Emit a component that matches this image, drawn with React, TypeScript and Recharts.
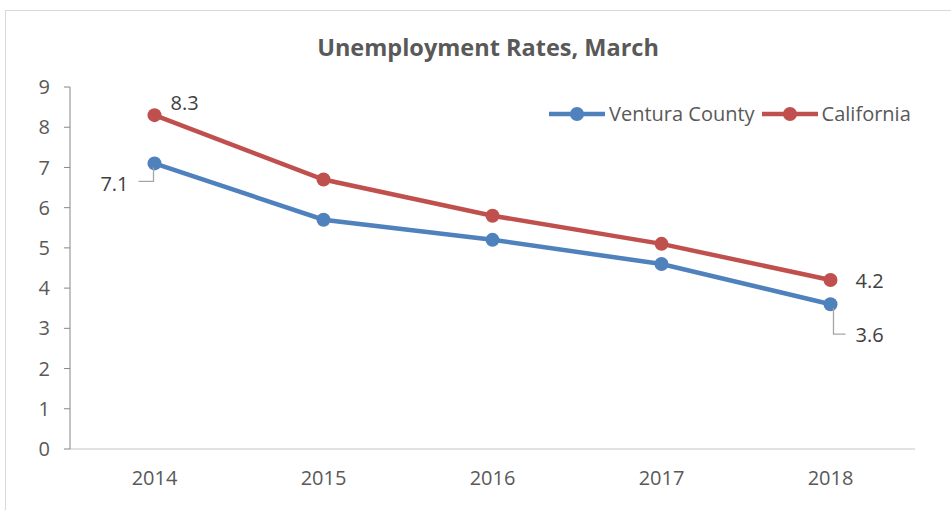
import { LineChart, Line, XAxis, YAxis, Legend, LabelList } from "recharts"

const years = ["2014", "2015", "2016", "2017", "2018"]
const ventura = [7.1, 5.7, 5.2, 4.6, 3.6]
const california = [8.3, 6.7, 5.8, 5.1, 4.2]
const seriesNames = ["Ventura County", "California"]
const yTicks = [0, 1, 2, 3, 4, 5, 6, 7, 8, 9]

const data = years.map((year, i) => ({ year, ventura: ventura[i], california: california[i] }))

const FONT = "'Open Sans', 'Liberation Sans', sans-serif"
const BLUE = "#4f81bd"
const RED = "#c0504d"

// where each visible data label goes, relative to its point
const labelSpots: Record<string, Record<number, { dx: number; dy: number; anchor: string; leader?: boolean }>> = {
  ventura: {
    0: { dx: -26, dy: 20, anchor: "end", leader: true },
    4: { dx: 25, dy: 30, anchor: "start", leader: true },
  },
  california: {
    0: { dx: 16, dy: -13, anchor: "start" },
    4: { dx: 25, dy: 0, anchor: "start" },
  },
}

function pointLabel(series: string) {
  return (props: any) => {
    const { x, y, value, index } = props
    const spot = labelSpots[series][index]
    if (!spot) return null
    const tx = x + spot.dx
    const ty = y + spot.dy
    return (
      <g>
        {spot.leader && (
          <polyline
            points={
              spot.anchor === "end"
                ? `${x - 1},${y + 4} ${x - 1},${ty - 2} ${tx + 10},${ty - 2}`
                : `${x + 3},${y + 4} ${x + 3},${ty} ${tx - 10},${ty}`
            }
            fill="none"
            stroke="#a6a6a6"
            strokeWidth={1.3}
          />
        )}
        <text x={tx} y={ty} textAnchor={spot.anchor as any} dominantBaseline="central"
          fontFamily={FONT} fontSize={20} fill="#404040">
          {value}
        </text>
      </g>
    )
  }
}

function LegendRow({ payload }: any) {
  const items = [...(payload || [])].sort(
    (a: any, b: any) => seriesNames.indexOf(a.value) - seriesNames.indexOf(b.value)
  )
  return (
    <div style={{ display: "flex", alignItems: "center", fontFamily: FONT, fontSize: 20, color: "#595959" }}>
      {items.map((p: any) => (
        <div key={p.value} style={{ display: "flex", alignItems: "center", marginRight: 6 }}>
          <svg width={58} height={20} style={{ marginRight: 3 }}>
            <line x1={1} y1={10} x2={57} y2={10} stroke={p.color} strokeWidth={4.5} />
            <circle cx={29} cy={10} r={7} fill={p.color} />
          </svg>
          <span>{p.value}</span>
        </div>
      ))}
    </div>
  )
}

export default function App() {
  return (
    <div style={{ position: "absolute", left: 0, top: 0, width: 951, height: 510, background: "#fff", overflow: "hidden" }}>
      <div style={{ position: "absolute", left: 5, top: 10, width: 980, height: 540, border: "1px solid #d9d9d9" }} />
      <div style={{
        position: "absolute", left: 0, top: 31, width: 976, textAlign: "center",
        fontFamily: FONT, fontWeight: 700, fontSize: 23.5, color: "#595959",
      }}>
        Unemployment Rates, March
      </div>
      <div style={{ position: "absolute", left: 0, top: 0 }}>
        <LineChart width={951} height={510} data={data} margin={{ top: 87, right: 36, bottom: 21, left: 0 }}>
          <XAxis
            dataKey="year"
            padding={{ left: 84.5, right: 84.5 }}
            axisLine={{ stroke: "#d9d9d9", strokeWidth: 1.5 }}
            tickLine={false}
            tickSize={0}
            tickMargin={22}
            height={40}
            tick={{ fontFamily: FONT, fontSize: 20, fill: "#595959" }}
          />
          <YAxis
            width={70}
            domain={[0, 9]}
            ticks={yTicks}
            interval={0}
            axisLine={{ stroke: "#868686" }}
            tickLine={{ stroke: "#868686" }}
            tickSize={6}
            tickMargin={14}
            tick={{ fontFamily: FONT, fontSize: 20, fill: "#595959" }}
          />
          <Legend
            verticalAlign="middle"
            align="center"
            content={<LegendRow />}
            wrapperStyle={{ top: 100, left: 548, width: "auto" }}
          />
          <Line
            type="linear"
            dataKey="ventura"
            name={seriesNames[0]}
            stroke={BLUE}
            strokeWidth={4.5}
            dot={{ r: 7, fill: BLUE, stroke: BLUE, strokeWidth: 0 }}
            activeDot={false}
            isAnimationActive={false}
          >
            <LabelList dataKey="ventura" content={pointLabel("ventura")} />
          </Line>
          <Line
            type="linear"
            dataKey="california"
            name={seriesNames[1]}
            stroke={RED}
            strokeWidth={4.5}
            dot={{ r: 7, fill: RED, stroke: RED, strokeWidth: 0 }}
            activeDot={false}
            isAnimationActive={false}
          >
            <LabelList dataKey="california" content={pointLabel("california")} />
          </Line>
        </LineChart>
      </div>
    </div>
  )
}
